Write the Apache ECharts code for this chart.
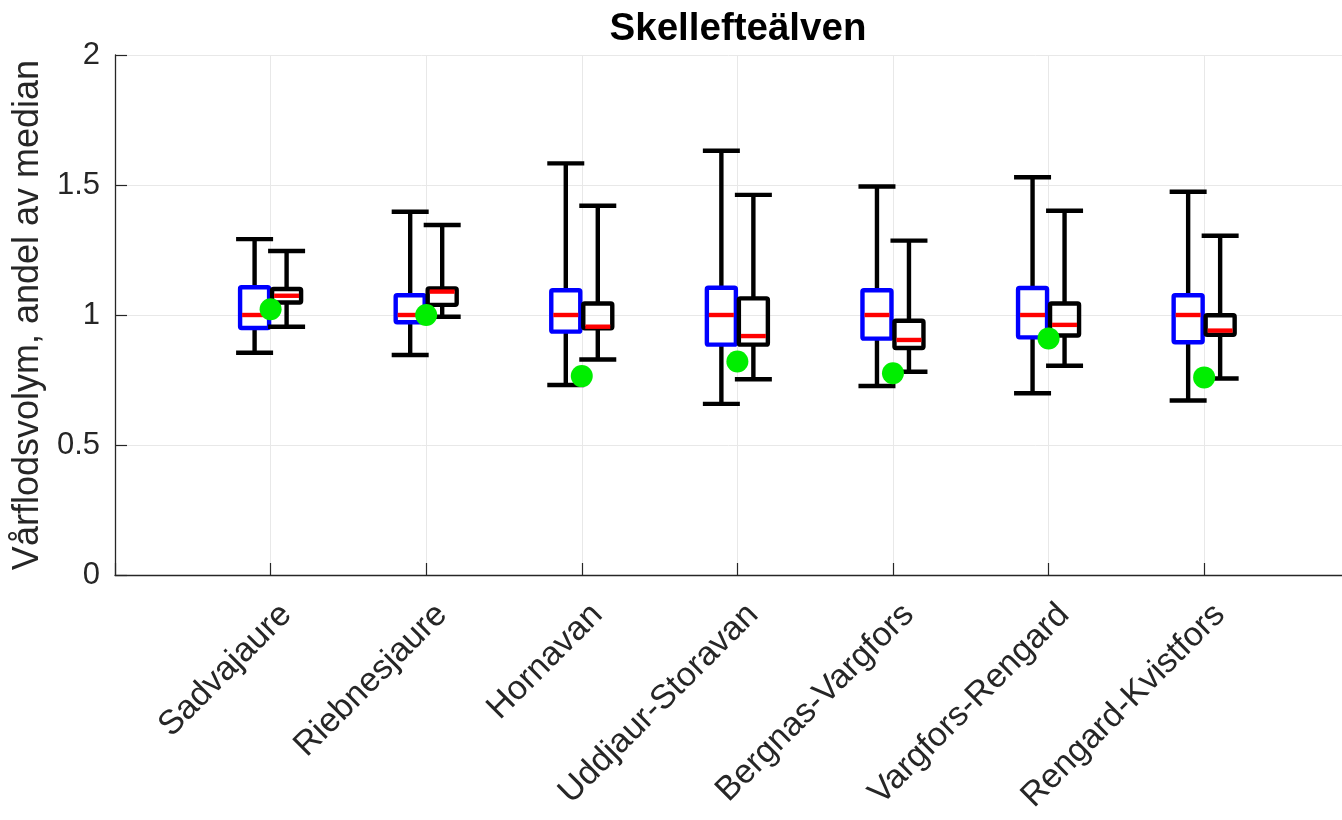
<!DOCTYPE html>
<html>
<head>
<meta charset="utf-8">
<title>Skellefteälven</title>
<script src="https://cdn.jsdelivr.net/npm/echarts@6/dist/echarts.min.js"></script>
<style>
  html, body { margin: 0; padding: 0; background: #ffffff; }
  #chart { width: 1342px; height: 820px; }
</style>
</head>
<body>
<div id="chart"></div>
<script>
// Stations along Skellefteälven
const stations = ['Sadvajaure', 'Riebnesjaure', 'Hornavan', 'Uddjaur-Storavan',
                  'Bergnas-Vargfors', 'Vargfors-Rengard', 'Rengard-Kvistfors'];

// Reference period (blue boxes): [lower whisker, Q1, median, Q3, upper whisker]
const refMin    = [0.855, 0.846, 0.731, 0.658, 0.727, 0.699, 0.671];
const refQ1     = [0.950, 0.972, 0.936, 0.886, 0.909, 0.914, 0.895];
const refMedian = [1.000, 1.000, 1.000, 1.000, 1.000, 1.000, 1.000];
const refQ3     = [1.107, 1.076, 1.095, 1.105, 1.095, 1.104, 1.076];
const refMax    = [1.292, 1.397, 1.583, 1.632, 1.494, 1.530, 1.474];

// Comparison period (black boxes)
const cmpMin    = [0.955, 0.993, 0.829, 0.753, 0.782, 0.805, 0.756];
const cmpQ1     = [1.048, 1.039, 0.949, 0.886, 0.873, 0.921, 0.924];
const cmpMedian = [1.074, 1.090, 0.955, 0.919, 0.904, 0.962, 0.940];
const cmpQ3     = [1.100, 1.102, 1.044, 1.064, 0.978, 1.044, 0.999];
const cmpMax    = [1.246, 1.346, 1.420, 1.462, 1.286, 1.401, 1.305];

// Single-year value (green dots)
const observed  = [1.022, 1.000, 0.765, 0.821, 0.776, 0.910, 0.760];

// Y axis ticks
const yTicks = [0, 0.5, 1, 1.5, 2];

// Visible x range: the axis is cut at the right edge of the figure
const xMin = 0;
const xMax = 7.886;

const FONT = '"Liberation Sans", Arial, Helvetica, sans-serif';

function boxRows(mins, q1s, meds, q3s, maxs) {
  return stations.map((s, i) => [i + 1, mins[i], q1s[i], meds[i], q3s[i], maxs[i]]);
}

// Draws one box with whiskers, shifted sideways by dx pixels from the station position
function makeBoxRenderer(dx, boxColor) {
  return function (params, api) {
    const xv = api.value(0);
    const pt = (idx) => api.coord([xv, api.value(idx)]);
    const cx = pt(1)[0] + dx;
    const yMin = pt(1)[1], yQ1 = pt(2)[1], yMed = pt(3)[1], yQ3 = pt(4)[1], yMax = pt(5)[1];
    const halfBox = 14.5, halfCap = 18.5, halfMed = 12.5;
    const lw = 4.4;
    const line = (x1, y1, x2, y2, color, w) => ({
      type: 'line',
      shape: { x1: x1, y1: y1, x2: x2, y2: y2 },
      style: { stroke: color, lineWidth: w, lineCap: 'butt' }
    });
    return {
      type: 'group',
      children: [
        line(cx, yMax, cx, yQ3, '#000000', lw),
        line(cx, yQ1, cx, yMin, '#000000', lw),
        line(cx - halfCap, yMax, cx + halfCap, yMax, '#000000', lw),
        line(cx - halfCap, yMin, cx + halfCap, yMin, '#000000', lw),
        {
          type: 'rect',
          shape: { x: cx - halfBox, y: yQ3, width: halfBox * 2, height: yQ1 - yQ3, r: 1.5 },
          style: { fill: 'none', stroke: boxColor, lineWidth: lw, lineJoin: 'round' }
        },
        line(cx - halfMed, yMed, cx + halfMed, yMed, '#ff0000', lw)
      ]
    };
  };
}

const chart = echarts.init(document.getElementById('chart'), null, { renderer: 'canvas' });

chart.setOption({
  backgroundColor: '#ffffff',
  animation: false,
  title: {
    text: 'Skellefteälven',
    left: 733,
    textAlign: 'center',
    top: 5,
    textStyle: { fontFamily: FONT, fontSize: 38.5, fontWeight: 'bold', color: '#000000' }
  },
  grid: { left: 115, right: 0, top: 55, bottom: 245, containLabel: false },
  xAxis: {
    type: 'value',
    min: xMin,
    max: xMax,
    interval: 1,
    axisLine: { show: true, onZero: false, lineStyle: { color: '#262626', width: 1.3 } },
    axisTick: { show: true, inside: true, length: 12, lineStyle: { color: '#262626', width: 1.2 } },
    splitLine: { show: true, lineStyle: { color: '#e8e8e8', width: 1 } },
    axisLabel: {
      show: true,
      rotate: 45,
      margin: 19,
      align: 'right',
      verticalAlign: 'top',
      lineHeight: 44,
      fontFamily: FONT,
      fontSize: 34,
      color: '#262626',
      showMaxLabel: false,
      formatter: (v) => (v >= 1 && v <= stations.length && Number.isInteger(v)) ? stations[v - 1] : ''
    }
  },
  yAxis: {
    type: 'value',
    min: yTicks[0],
    max: yTicks[yTicks.length - 1],
    interval: yTicks[1] - yTicks[0],
    name: 'Vårflodsvolym, andel av median',
    nameLocation: 'middle',
    nameGap: 69,
    nameTextStyle: { fontFamily: FONT, fontSize: 36, color: '#262626' },
    axisLine: { show: true, lineStyle: { color: '#262626', width: 1.3 } },
    axisTick: { show: true, inside: true, length: 12, lineStyle: { color: '#262626', width: 1.2 } },
    splitLine: { show: true, lineStyle: { color: '#e8e8e8', width: 1 } },
    axisLabel: {
      margin: 15,
      fontFamily: FONT,
      fontSize: 31,
      color: '#262626',
      formatter: (v) => String(v)
    }
  },
  series: [
    {
      name: 'ref',
      type: 'custom',
      renderItem: makeBoxRenderer(-16, '#0000ff'),
      encode: { x: 0, y: [1, 2, 3, 4, 5] },
      data: boxRows(refMin, refQ1, refMedian, refQ3, refMax),
      z: 2
    },
    {
      name: 'cmp',
      type: 'custom',
      renderItem: makeBoxRenderer(16, '#000000'),
      encode: { x: 0, y: [1, 2, 3, 4, 5] },
      data: boxRows(cmpMin, cmpQ1, cmpMedian, cmpQ3, cmpMax),
      z: 3
    },
    {
      name: 'obs',
      type: 'scatter',
      symbol: 'circle',
      symbolSize: 22,
      itemStyle: { color: '#00ee00', opacity: 1 },
      data: observed.map((v, i) => [i + 1, v]),
      z: 4
    }
  ]
});
</script>
</body>
</html>
